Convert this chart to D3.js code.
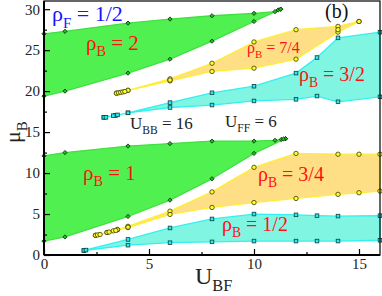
<!DOCTYPE html>
<html>
<head>
<meta charset="utf-8">
<script src="https://cdn.jsdelivr.net/npm/d3@7"></script>
<style>
  body { margin: 0; background: #fff; }
  text { font-family: "Liberation Serif", "DejaVu Serif", serif; }
</style>
</head>
<body>
<div id="chart"></div>
<script>
// phase boundaries: [U_BF, mu_B]
const green2Top = [[0,27.0],[1,27.3],[4,28.3],[6,28.8],[8,29.2],[10,29.5],[11,29.7],[11.15,29.9],[11.27,30.0]];
const green2Bot = [[0,19.4],[1,20.0],[4,22.2],[6,23.9],[8,26.1],[10,28.5],[11.27,30.0]];
const yellow74Top = [[3.45,19.75],[4,20.1],[6,21.5],[8,23.4],[10,26.0],[12,27.5],[14,27.9],[15,28.5]];
const yellow74Bot = [[3.45,19.75],[4,20.1],[6,21.25],[8,22.4],[10,22.8],[12,23.9],[14,27.2],[15,28.5]];
const cyan32Top = [[2.85,16.8],[3.4,17.05],[4,17.35],[6,18.6],[8,19.8],[10,20.6],[12,22.2],[13,24.1],[14,26.5],[16,27.2]];
const cyan32Bot = [[2.85,16.8],[3.4,17.05],[4,17.35],[6,18.0],[8,18.3],[10,18.8],[12,19.0],[13,19.4],[14,18.7],[16,19.3]];

const green1Top = [[0,12.1],[1,12.5],[4,13.3],[6,13.6],[8,13.9],[10,13.9],[11,14.0],[11.3,14.1],[11.5,14.2]];
const green1Bot = [[0,1.7],[1,2.2],[4,4.7],[6,6.7],[8,9.3],[10,12.4],[11.5,14.2]];
const yellow34Top = [[2.45,2.4],[3.0,2.75],[3.5,3.1],[4,3.5],[6,5.35],[8,7.7],[10,10.7],[12,12.4],[14,12.3],[15,12.3],[16,12.3]];
const yellow34Bot = [[2.45,2.4],[3.0,2.75],[3.5,3.1],[4,3.35],[6,4.95],[8,5.8],[10,6.4],[12,6.9],[14,7.4],[15,7.6],[16,7.8]];
const cyan12Top = [[1.9,0.55],[4,1.9],[6,3.3],[8,4.4],[10,5.0],[12,4.9],[13,4.8],[14,4.75],[16,4.8]];
const cyan12Bot = [[1.9,0.55],[4,1.2],[6,1.5],[8,1.6],[10,1.7],[12,1.7],[13,1.7],[14,1.7],[16,1.8]];

// extra computed points that sit inside the clusters
const yellowCluster = [[3.55,19.8],[3.65,19.85],[3.75,19.9],[3.85,19.95],[6,21.35],[14,27.5],
  [2.55,2.45],[2.67,2.5],[3.1,2.8],[3.3,2.95],[3.42,3.0],[4,3.4]];
const cyanCluster = [[2.95,16.8],[3.3,17.0],[3.5,17.1],[2.0,0.6]];
const greenCluster = [[11.4,14.15]];

const xTicks = [0, 5, 10, 15];
const xMinor = [2.5, 7.5, 12.5];
const yTicks = [0, 5, 10, 15, 20, 25, 30];
const yMinor = [2.5, 7.5, 12.5, 17.5, 22.5, 27.5];

const W = 382, H = 296;
const svg = d3.select("#chart").append("svg").attr("width", W).attr("height", H);

const x = d3.scaleLinear().domain([0, 16]).range([44, 380]);
const y = d3.scaleLinear().domain([0, 31]).range([255, 1]);

const area = (top, bot) => d3.line().x(d => x(d[0])).y(d => y(d[1]))(top.concat(bot.slice().reverse())) + "Z";

const regions = [
  [green2Top, green2Bot, "#50f050", "#40e040"],
  [yellow74Top, yellow74Bot, "#ffdf85", "#ffee33"],
  [cyan32Top, cyan32Bot, "#80f5e2", "#33f0f0"],
  [green1Top, green1Bot, "#50f050", "#40e040"],
  [yellow34Top, yellow34Bot, "#ffdf85", "#ffee33"],
  [cyan12Top, cyan12Bot, "#80f5e2", "#33f0f0"]
];

svg.append("g").selectAll("path").data(regions).join("path")
  .attr("d", d => area(d[0], d[1]))
  .attr("fill", d => d[2])
  .attr("stroke", d => d[3])
  .attr("stroke-width", 1.3)
  .attr("stroke-linejoin", "round");

// markers
const greenPts = green2Top.concat(green2Bot, green1Top, green1Bot, greenCluster);
const yellowPts = yellow74Top.concat(yellow74Bot, yellow34Top, yellow34Bot, yellowCluster);
const cyanPts = cyan32Top.concat(cyan32Bot, cyan12Top, cyan12Bot, cyanCluster);

svg.append("g").selectAll("rect").data(greenPts).join("rect")
  .attr("x", -1.5).attr("y", -1.5).attr("width", 3).attr("height", 3)
  .attr("transform", d => `translate(${x(d[0])},${y(d[1])}) rotate(45)`)
  .attr("fill", "#22bb22").attr("stroke", "#0a300a").attr("stroke-width", 0.8);

svg.append("g").selectAll("circle").data(yellowPts).join("circle")
  .attr("cx", d => x(d[0])).attr("cy", d => y(d[1])).attr("r", 2.2)
  .attr("fill", "#ffff22").attr("stroke", "#3a3a10").attr("stroke-width", 0.8);

svg.append("g").selectAll("rect").data(cyanPts).join("rect")
  .attr("x", d => x(d[0]) - 1.8).attr("y", d => y(d[1]) - 1.8)
  .attr("width", 3.6).attr("height", 3.6)
  .attr("fill", "#22eeee").attr("stroke", "#104040").attr("stroke-width", 0.8);

// axes, ticks inside
svg.append("g").attr("transform", "translate(0,255)")
  .call(d3.axisBottom(x).tickValues(xTicks).tickSize(-6).tickPadding(3).tickFormat(d3.format("d")));
svg.append("g").attr("transform", "translate(0,255)")
  .call(d3.axisBottom(x).tickValues(xMinor).tickSize(-3).tickFormat(""));
svg.append("g").attr("transform", "translate(44,0)")
  .call(d3.axisLeft(y).tickValues(yTicks).tickSize(-6).tickPadding(4).tickFormat(d3.format("d")));
svg.append("g").attr("transform", "translate(44,0)")
  .call(d3.axisLeft(y).tickValues(yMinor).tickSize(-3).tickFormat(""));
svg.selectAll(".domain").remove();
svg.selectAll(".tick line").attr("stroke", "#000").attr("stroke-width", 1.2);
svg.selectAll(".tick text").attr("font-size", 15).attr("fill", "#222")
  .style("font-family", "Liberation Serif");

svg.append("rect").attr("x", 44).attr("y", 1).attr("width", 336).attr("height", 254)
  .attr("fill", "none").attr("stroke", "#000").attr("stroke-width", 1.2);
svg.append("line").attr("x1", 44).attr("x2", 380).attr("y1", 255).attr("y2", 255)
  .attr("stroke", "#000").attr("stroke-width", 2);
svg.append("line").attr("x1", 44).attr("x2", 44).attr("y1", 1).attr("y2", 255)
  .attr("stroke", "#000").attr("stroke-width", 2);

// labels with a subscript
function label(px, py, main, sub, rest, size, color) {
  const t = svg.append("text").attr("x", px).attr("y", py)
    .attr("font-size", size).attr("fill", color);
  t.append("tspan").text(main);
  t.append("tspan").attr("font-size", size * 0.68).attr("dy", size * 0.3).text(sub);
  t.append("tspan").attr("dy", -size * 0.3).text(rest);
  return t;
}

const red = "#ff1010";
label(52, 21, "ρ", "F", " = 1/2", 22, "#1414ff");
label(86, 50, "ρ", "B", " = 2", 21, red);
label(247, 53, "ρ", "B", " = 7/4", 16, red);
label(299, 81, "ρ", "B", " = 3/2", 20, red);
label(83, 180, "ρ", "B", " = 1", 21, red);
label(258, 181, "ρ", "B", " = 3/4", 20, red);
label(222, 231, "ρ", "B", " = 1/2", 20, red);
label(130, 129, "U", "BB", " = 16", 17, "#222");
label(225, 127, "U", "FF", " = 6", 17, "#222");
svg.append("text").attr("x", 325).attr("y", 18).attr("font-size", 20).attr("fill", "#111").text("(b)");

label(195, 284, "U", "BF", "", 24, "#222");
label(0, 0, "μ", "B", "", 22, "#222").attr("transform", "translate(20,143) rotate(-90)");
</script>
</body>
</html>
